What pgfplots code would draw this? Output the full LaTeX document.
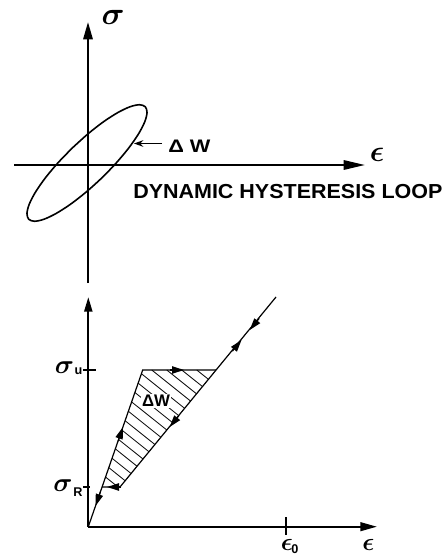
\documentclass[border=0pt]{standalone}
\usepackage{pgfplots}
\usepackage{pgfplotstable}
\pgfplotsset{compat=1.18}
\usetikzlibrary{arrows.meta}
\usepackage{fontspec}
\setmainfont{Liberation Sans}

\tikzset{
  axisline/.style={line width=1.6pt},
  pathline/.style={line width=0.9pt},
  midtip/.style={pathline,-{Triangle[length=9pt,width=5.5pt]}},
}

% label texts
\newcommand\sigmalbl[1]{\scalebox{1.15}{\fontsize{#1}{#1}\selectfont\boldmath$\sigma$}}
\newcommand\epslbl[1]{\scalebox{1.3}{\fontsize{#1}{#1}\selectfont\boldmath$\epsilon$}}
\newcommand\sublbl[1]{{\fontsize{9.5}{9.5}\selectfont\bfseries #1}}
\newcommand\dwtop{\scalebox{1.2}[1]{\fontsize{13.6}{14}\selectfont\bfseries\symbol{"0394} W}}
\newcommand\dwbottom{{\fontsize{12.6}{13}\selectfont\bfseries\symbol{"0394}W}}
\newcommand\looptitle{\scalebox{1.06}[1]{\fontsize{15.2}{16}\selectfont\bfseries DYNAMIC HYSTERESIS LOOP}}

% hatch strokes of the dissipated-energy area (nan row = new stroke)
\pgfplotstableread{
x y
196.75 370
208.4 379.3
nan nan
181.75 370
202.4 386.5
nan nan
166.75 370
196.5 393.8
nan nan
151.75 370
190.5 401.0
nan nan
141.4 373.7
184.6 408.3
nan nan
138.1 383.1
178.6 415.5
nan nan
134.9 392.5
172.8 422.8
nan nan
131.6 401.9
166.8 430.0
nan nan
128.4 411.3
160.9 437.3
nan nan
125.1 420.7
154.9 444.5
nan nan
121.9 430.1
148.9 451.7
nan nan
118.6 439.5
143.0 459.0
nan nan
115.4 448.9
137.0 466.2
nan nan
112.1 458.3
131.1 473.5
nan nan
108.8 467.6
125.1 480.7
nan nan
105.5 477.0
118.0 487.0
}\hatch

\begin{document}
\begin{tikzpicture}
\begin{axis}[
  hide axis, clip=false,
  x=0.75pt, y=0.75pt,
  xmin=0, xmax=442, ymin=0, ymax=556, y dir=reverse,
  unbounded coords=jump,
]
% ---------- dynamic hysteresis loop ----------
\addplot[axisline,-{Triangle[length=13pt,width=7pt]}] coordinates {(88,283) (88,22)};
\addplot[axisline,-{Triangle[length=16pt,width=7pt]}] coordinates {(14,165) (365,165)};

\addplot[line width=1.2pt, smooth] coordinates {
 (72.41,147.89) (57.83,162.97) (45.23,178.05) (35.48,192.11) (29.25,204.17)
 (26.95,213.44) (28.74,219.27) (34.51,221.26) (43.85,219.29) (56.12,213.47)
 (70.51,204.23) (86.01,192.15) (101.59,178.11) (116.17,163.03) (128.77,147.95)
 (138.52,133.89) (144.75,121.83) (147.05,112.56) (145.26,106.73) (139.49,104.74)
 (130.15,106.71) (117.88,112.53) (103.49,121.77) (87.99,133.85) (72.41,147.89)};

\addplot[line width=1pt,-{Stealth[length=7pt,width=5pt]}] coordinates {(162,143.5) (134,143.5)};

\node at (axis cs:113,17.5) {\sigmalbl{20}};
\node at (axis cs:377,155) {\epslbl{17}};
\node[anchor=west,inner sep=0pt] at (axis cs:168,146.5) {\dwtop};
\node[anchor=west,inner sep=0pt] at (axis cs:133,191.5) {\looptitle};

% ---------- loading / unloading cycle ----------
\addplot[line width=0.6pt] table {\hatch};

\addplot[axisline,-{Triangle[length=11pt,width=6pt]}] coordinates {(88.3,526.7) (88.3,297)};
\addplot[axisline,-{Triangle[length=12.5pt,width=6.5pt]}] coordinates {(88.3,526.7) (377,526.7)};

\addplot[line width=1pt] coordinates {(83,370) (96,370)};
\addplot[line width=1pt] coordinates {(83,487) (90,487)};
\addplot[line width=1pt] coordinates {(286,517) (286,535)};

\addplot[pathline] coordinates {(88.3,526.7) (142.7,370) (216,370)};
\addplot[pathline] coordinates {(102.1,487) (120,487) (276,297)};

\addplot[midtip] coordinates {(118.1,441.2) (123,427)};
\addplot[midtip] coordinates {(170,370) (184,370)};
\addplot[midtip] coordinates {(232.4,351.2) (241.5,340)};
\addplot[midtip] coordinates {(259.2,318.4) (249.7,330)};
\addplot[midtip] coordinates {(179.1,415.4) (169.6,427)};
\addplot[midtip] coordinates {(121,487) (107,487)};
\addplot[midtip] coordinates {(100.4,491.8) (95.5,506)};

\node[fill=white,inner sep=1pt] at (axis cs:156,401) {\dwbottom};

\node at (axis cs:64.5,367.5) {\sigmalbl{18}};
\node at (axis cs:78.5,371.5) {\sublbl{u}};
\node at (axis cs:63,486) {\sigmalbl{18}};
\node at (axis cs:78,492) {\sublbl{R}};
\node at (axis cs:287,545) {\epslbl{15}};
\node at (axis cs:295,549) {\sublbl{0}};
\node at (axis cs:368.5,545) {\epslbl{15}};
\end{axis}
\pgfresetboundingbox
\path (current axis.south west) rectangle (current axis.north east);
\end{tikzpicture}
\end{document}
